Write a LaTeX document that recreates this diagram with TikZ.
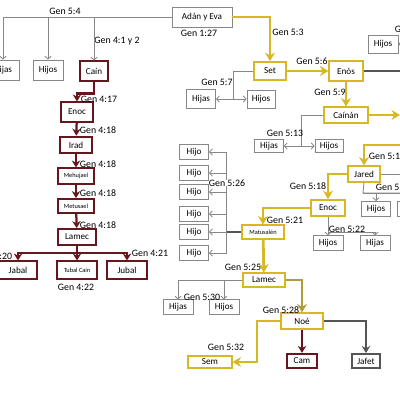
\documentclass[tikz,border=0pt]{standalone}
\usepackage{fontspec}
\setmainfont{Carlito}
\usepackage{tikz}
\usetikzlibrary{arrows.meta}
\usepackage{xcolor}
\definecolor{oro}{RGB}{214,184,36}
\definecolor{olivo}{RGB}{176,156,58}
\definecolor{vino}{RGB}{102,22,28}
\definecolor{gris}{RGB}{135,135,135}
\definecolor{oscuro}{RGB}{85,85,85}
\tikzstyle{caja} = [draw=gris, fill=white, line width=0.6pt, minimum width=0.75cm, minimum height=0.42cm, inner sep=1pt, font=\fontsize{6.5}{7}\selectfont]
\tikzstyle{cajaoro} = [caja, draw=oro, line width=1.3pt]
\tikzstyle{cajavino} = [caja, draw=vino, line width=1.3pt]
\tikzstyle{cajaosc} = [caja, draw=oscuro, line width=1.1pt]
\tikzstyle{chico} = [font=\fontsize{4.5}{5}\selectfont]
\tikzstyle{cita} = [font=\fontsize{7}{8}\selectfont, inner sep=0.5pt]
\tikzstyle{lineagris} = [draw=gris, line width=0.6pt]
\tikzstyle{flechagris} = [lineagris, -{Straight Barb[length=2pt,width=4.5pt]}]
\tikzstyle{lineaosc} = [draw=oscuro, line width=0.9pt]
\tikzstyle{flechaosc} = [draw=oscuro, line width=1.4pt, -{Stealth[length=5pt,width=6pt]}]
\tikzstyle{flechaoro} = [draw=oro, line width=2pt, -{Stealth[length=6pt,width=7pt]}]
\tikzstyle{flechaolivo} = [draw=olivo, line width=2pt, -{Stealth[length=6pt,width=7pt]}]
\tikzstyle{flechavino} = [draw=vino, line width=1.6pt, -{Stealth[length=5pt,width=6pt]}]
\begin{document}
\begin{tikzpicture}[x=0.025cm, y=-0.025cm]
\fill[white] (0,0) rectangle (400,400);
\useasboundingbox (0,0) rectangle (400,400);

% Adan y Eva y sus hijos
\node[caja, minimum width=1.5cm, minimum height=0.5cm] (adan) at (202,17) {Adán y Eva};
\node[cita] at (199,33) {Gen 1:27};
\node[caja, minimum width=0.8cm, minimum height=0.5cm] (hijasA) at (3,70) {Hijas};
\node[caja, minimum width=0.75cm, minimum height=0.5cm] (hijosA) at (48,70) {Hijos};
\node[cajavino, minimum width=0.72cm, minimum height=0.48cm] (cain) at (94,71) {Caín};
\node[cita] at (65,11) {Gen 5:4};
\node[cita] at (117,41) {Gen 4:1 y 2};
\draw[flechagris] (adan.west) -| (hijasA.north);
\draw[flechagris] (adan.west) -| (hijosA.north);
\draw[flechagris] (adan.west) -| (cain.north);

% linea de Cain
\node[cajavino, minimum width=0.78cm, minimum height=0.48cm] (enocC) at (77,112) {Enoc};
\node[cajavino, minimum width=0.82cm] (irad) at (76,145) {Irad};
\node[cajavino, minimum width=0.9cm, minimum height=0.38cm, chico] (mehu) at (76,176) {Mehujael};
\node[cajavino, minimum width=0.88cm, minimum height=0.35cm, chico] (metu) at (76,206) {Metusael};
\node[cajavino, minimum width=0.93cm, minimum height=0.4cm] (lamecC) at (77,237) {Lamec};
\node[cajavino, minimum width=0.93cm, minimum height=0.43cm] (jabal) at (18,270) {Jabal};
\node[cajavino, minimum width=1cm, minimum height=0.43cm, chico] (tubal) at (77,270) {Tubal Caín};
\node[cajavino, minimum width=0.98cm, minimum height=0.43cm] (jubal) at (127,270) {Jubal};
\draw[flechavino] (cain.south) -- ++(0,12) -| (enocC.north);
\draw[flechavino] (enocC) -- (irad);
\draw[flechavino] (irad) -- (mehu);
\draw[flechavino] (mehu) -- (metu);
\draw[flechavino] (metu) -- (lamecC);
\draw[flechavino] (lamecC.south) -- ++(0,7) -| (jabal.north);
\draw[flechavino] (lamecC) -- (tubal);
\draw[flechavino] (lamecC.south) -- ++(0,7) -| (jubal.north);
\node[cita] at (99,99) {Gen 4:17};
\node[cita] at (98,130) {Gen 4:18};
\node[cita] at (98,164) {Gen 4:18};
\node[cita] at (98,193) {Gen 4:18};
\node[cita] at (98,225) {Gen 4:18};
\node[cita, anchor=east] at (13,256) {Gen 4:20};
\node[cita] at (150,253) {Gen 4:21};
\node[cita] at (76,287) {Gen 4:22};

% linea de Set
\node[cajaoro, minimum width=0.78cm, minimum height=0.45cm] (set) at (270,71) {Set};
\node[cajaoro, minimum width=0.83cm, minimum height=0.48cm] (enos) at (346,71) {Enós};
\node[caja, minimum width=0.73cm, minimum height=0.48cm] (hijasB) at (201,99) {Hijas};
\node[caja, minimum width=0.7cm, minimum height=0.45cm] (hijosB) at (261,99) {Hijos};
\coordinate (setk) at (233,99);
\draw[flechaoro] (adan.east) -| (set.north);
\draw[flechaoro] (set) -- (enos);
\draw[lineagris] (set.west) -| (setk);
\draw[flechagris] (setk) -- (hijasB);
\draw[flechagris] (setk) -- (hijosB);
\node[cita] at (288,32) {Gen 5:3};
\node[cita] at (312,61) {Gen 5:6};
\node[cita] at (217,82) {Gen 5:7};

\node[caja, minimum width=0.75cm, minimum height=0.45cm] (hijosC) at (383,44) {Hijos};
\coordinate (derA) at (412,44);
\coordinate (derB) at (401,71);
\draw[flechagris] (derA) -- (hijosC);
\draw[lineaosc] (enos.east) -- (derB);
\node[cita, anchor=west] at (394,29) {Gen 5:10};

\node[cajaoro, minimum width=1.08cm, minimum height=0.38cm] (cainan) at (346,115) {Caínán};
\node[caja, minimum width=0.72cm, minimum height=0.33cm] (hijasD) at (269,146) {Hijas};
\node[caja, minimum width=0.7cm, minimum height=0.33cm] (hijosD) at (329,146) {Hijos};
\coordinate (caik) at (301,146);
\coordinate (derC) at (400,115);
\draw[flechaoro] (enos) -- (cainan);
\draw[flechaoro] (cainan.east) -- (derC);
\draw[lineagris] (cainan.west) -| (caik);
\draw[flechagris] (caik) -- (hijasD);
\draw[flechagris] (caik) -- (hijosD);
\node[cita] at (330,92) {Gen 5:9};
\node[cita] at (285,133) {Gen 5:13};

\node[cajaoro, minimum width=0.82cm, minimum height=0.38cm] (jared) at (364,174) {Jared};
\node[caja, minimum width=0.72cm, minimum height=0.38cm] (hijosE) at (376,209) {Hijos};
\node[caja, minimum width=0.72cm, minimum height=0.38cm] (hijasE) at (412,209) {Hijas};
\coordinate (derD) at (410,145);
\coordinate (derE) at (401,174);
\coordinate (jark) at (363,193);
\coordinate (derF) at (401,193);
\draw[flechaoro] (derD) -| (jared.north);
\draw[lineagris] (jared.east) -- (derE);
\draw[lineagris] (jared.south) -- (jark) -- (derF);
\draw[flechagris] (jark) -| (hijosE.north);
\draw[flechagris] (jark) -| (hijasE.north);
\node[cita, anchor=west] at (368,156) {Gen 5:15};
\node[cita, anchor=west] at (375,187) {Gen 5:19};

\node[cajaoro, minimum width=0.83cm, minimum height=0.4cm] (enocS) at (328,208) {Enoc};
\node[caja, minimum width=0.75cm, minimum height=0.36cm] (hijosF) at (328,243) {Hijos};
\node[caja, minimum width=0.75cm, minimum height=0.36cm] (hijasF) at (375,243) {Hijas};
\coordinate (enk) at (328,232);
\draw[flechaoro] (jared.west) -| (enocS.north);
\draw[flechagris] (enocS) -- (hijosF);
\draw[flechagris] (enk) -| (hijasF.north);
\node[cita] at (308,186) {Gen 5:18};
\node[cita] at (347,229) {Gen 5:22};

\node[cajaoro, minimum width=1.03cm, minimum height=0.33cm, chico] (matus) at (263,232) {Matusalén};
\foreach \i/\y in {1/152,2/173,3/192,4/214,5/232,6/253}
  \node[caja, minimum width=0.73cm, minimum height=0.36cm] (hijo\i) at (194,\y) {Hijo};
\coordinate (matk) at (226,232);
\draw[flechaoro] (enocS.west) -| (matus.north);
\draw[lineaosc] (matus.west) -- (matk);
\foreach \i in {1,...,6}
  \draw[flechagris] (matk) |- (hijo\i.east);
\node[cita] at (285,220) {Gen 5:21};
\node[cita, fill=white, inner sep=0pt] at (227,183) {Gen 5:26};

\node[cajaoro, minimum width=1.03cm, minimum height=0.33cm] (lamecS) at (264,280) {Lamec};
\node[caja, minimum width=0.75cm, minimum height=0.36cm] (hijasG) at (178,307) {Hijas};
\node[caja, minimum width=0.75cm, minimum height=0.36cm] (hijosG) at (224,307) {Hijos};
\draw[flechaoro] (matus) -- (lamecS);
\draw[flechagris] (lamecS.west) -| (hijasG.north);
\draw[flechagris] (lamecS.west) -| (hijosG.north);
\node[cita] at (243,267) {Gen 5:25};
\node[cita] at (202,297) {Gen 5:30};

% hijos de Noe
\node[cajaoro, minimum width=1.05cm, minimum height=0.38cm] (noe) at (302,321) {Noé};
\node[cajaoro, minimum width=1.08cm, minimum height=0.3cm] (sem) at (210,362) {Sem};
\node[cajavino, minimum width=0.73cm, minimum height=0.36cm] (cam) at (302,361) {Cam};
\node[cajaosc, minimum width=0.7cm, minimum height=0.36cm] (jafet) at (366,361) {Jafet};
\coordinate (semk) at (257,362);
\draw[flechaolivo] (lamecS.east) -| (noe.north);
\draw[flechaoro] (noe.west) -| (semk) -- (sem.east);
\draw[flechavino] (noe) -- (cam);
\draw[flechaosc] (noe.east) -| (jafet.north);
\node[cita] at (281,310) {Gen 5:28};
\node[cita] at (226,347) {Gen 5:32};
\end{tikzpicture}
\end{document}
